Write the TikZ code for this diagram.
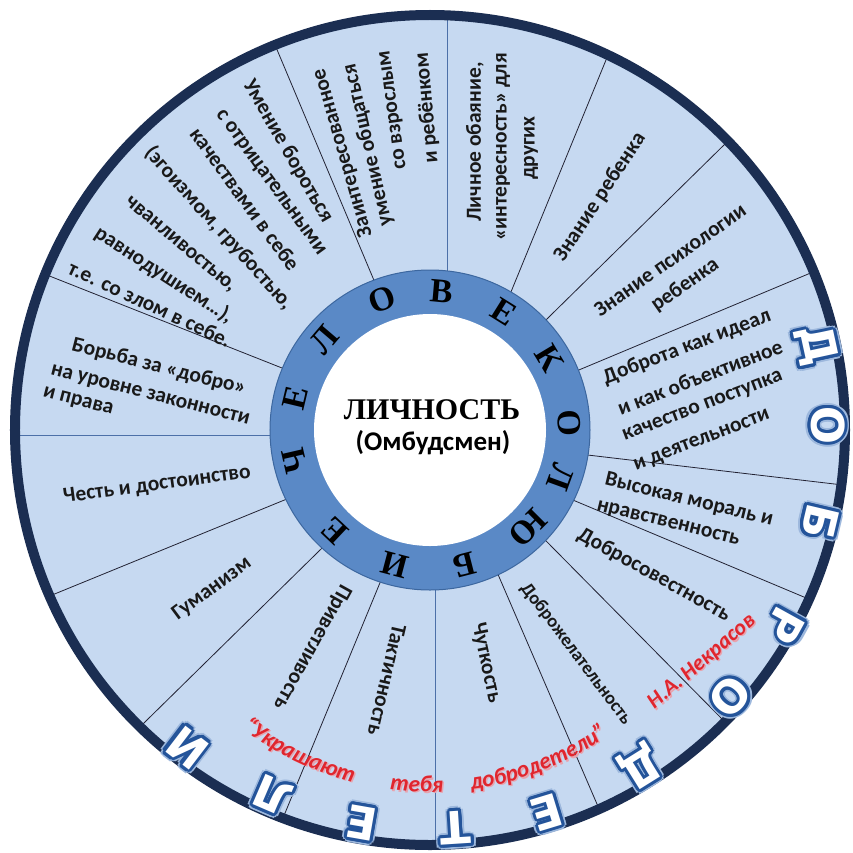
\documentclass[tikz,border=0pt]{standalone}
\usepackage{fontspec}
\setmainfont{Carlito}
\newfontfamily\secfont{Carlito}
\newfontfamily\redfont{Carlito}
\newfontfamily\ringfont{Liberation Serif}
\newfontfamily\letfont{DejaVu Sans}
\usetikzlibrary{decorations.text,calc}
\definecolor{secfill}{HTML}{C6D9F1}
\definecolor{navy}{HTML}{1B2E52}
\definecolor{ringblue}{HTML}{5A89C6}
\definecolor{ringedge}{HTML}{3C679F}
\definecolor{divline}{HTML}{222233}
\definecolor{divblue}{HTML}{4C70A8}
\definecolor{redtxt}{HTML}{E0262E}
\definecolor{redshadow}{HTML}{E8A3AE}
\definecolor{letblue}{HTML}{24549A}
\definecolor{letglow}{HTML}{9DB8DD}
\newcommand\redfmt{\redfont\bfseries\itshape\fontsize{23}{28}\selectfont\color{redtxt}}
\newcommand\redsfmt{\redfont\bfseries\itshape\fontsize{23}{28}\selectfont\color{redshadow}}
\newcommand\OutLetter[4]{%
  \foreach \t in {0,30,...,330}{\node[olet,text=letglow,rotate=#1-90] at ($(#1:#2)+(\t:4.8)$) {#3};}
  \foreach \t in {0,22.5,...,337.5}{\node[olet,text=letblue,rotate=#1-90] at ($(#1:#2)+(\t:3)$) {#3};}
  \node[olet,text=white,rotate=#1-90] (#4) at (#1:#2) {#3};}
\begin{document}
\begin{tikzpicture}[x=1pt,y=1pt,
  sec/.style={font=\secfont\bfseries\fontsize{21.5}{27}\selectfont, inner sep=0pt, text=black!90},
  secs/.style={font=\secfont\bfseries\fontsize{18.5}{23}\selectfont, inner sep=0pt, text=black!90},
  ringl/.style={font=\ringfont\bfseries\fontsize{34}{34}\selectfont, inner sep=0pt, text=black},
  olet/.style={font=\letfont\bfseries\fontsize{45}{45}\selectfont, inner sep=0pt, text height=0.72em, text depth=0pt},
  divd/.style={draw=divline, line width=0.8pt},
  divb/.style={draw=divblue, line width=1pt},
  redt/.style={font=\redfont\bfseries\itshape\fontsize{22}{26}\selectfont, text=redtxt, inner sep=0pt},
  redsh/.style={font=\redfont\bfseries\itshape\fontsize{22}{26}\selectfont, text=redshadow, inner sep=0pt}]
\useasboundingbox (-430,430) rectangle (423,-422);
\fill[white] (-430,430) rectangle (423,-422);
\fill[secfill] (0,0) circle (415);
% dividers
\begin{scope}
\clip (0,0) circle (415);
\coordinate (tvi) at (17,160);   \coordinate (tvo) at (17,418);
\coordinate (ci) at (83,143);    \coordinate (co) at (176,370);
\coordinate (di) at (121,115);   \coordinate (do) at (296,287);
\coordinate (ei) at (156,63);    \coordinate (eo) at (383,158);
\coordinate (fi) at (166,-26);   \coordinate (fo) at (413,-55);
\coordinate (gi) at (150,-73);   \coordinate (go) at (381,-170);
\coordinate (hi) at (126,-121);  \coordinate (ho) at (296,-293);
\coordinate (ii) at (73,-156);   \coordinate (io) at (170,-381);
\coordinate (bvi) at (5,-160);   \coordinate (bvo) at (5,-415);
\coordinate (ji) at (-53,-160);  \coordinate (jo) at (-147,-388);
\coordinate (ki) at (-113,-123); \coordinate (ko) at (-283,-290);
\coordinate (li) at (-148,-71);  \coordinate (lo) at (-373,-163);
\coordinate (mi) at (-160,-5);   \coordinate (mo) at (-415,-5);
\coordinate (bi) at (-148,62);   \coordinate (bo) at (-378,153);
\coordinate (ai) at (-57,152);   \coordinate (ao) at (-152,378);
\foreach \p in {c,d,e,f,g,h,i,j,k,l,b,a}{
  \draw[divd] ($(\p o)!1.15!(\p i)$) -- ($(\p i)!1.15!(\p o)$);}
\foreach \p in {tv,bv,m}{
  \draw[divb] ($(\p o)!1.15!(\p i)$) -- ($(\p i)!1.15!(\p o)$);}
\end{scope}
% ring
\filldraw[fill=ringblue, draw=ringedge, line width=1pt] (0,0) circle (160);
\fill[white] (0,0) circle (116);
\draw[navy, line width=10pt] (0,0) circle (415);
% ring letters
\foreach \a/\l [count=\i, evaluate=\a as \rr using \a-90] in
  {193/Ч,166.5/Е,139.5/Л,110/О,85/В,58/Е,31/К,3/О,-20/Л,-45/Ю,-75.6/Б,-104.8/И,-133.4/Е}
  {\node[ringl, rotate=\rr] (ring\i) at (\a:139) {\l};}
% centre
\node[font=\ringfont\bfseries\fontsize{30}{30}\selectfont, inner sep=0pt] (lich) at (2,20) {ЛИЧНОСТЬ};
\node[font=\secfont\bfseries\fontsize{27}{27}\selectfont, inner sep=0pt] (omb) at (3,-13) {(Омбудсмен)};
% sector texts
\node[sec, rotate=90] (s1a) at (45,288) {Личное обаяние,};
\node[sec, rotate=90] (s1b) at (73,283) {«интересность» для};
\node[sec, rotate=90] (s1c) at (101,282) {других};
\node[sec, rotate=56.5] (s2) at (170,233) {Знание ребенка};
\node[sec, rotate=35] (s3a) at (240,170) {Знание психологии};
\node[sec, rotate=35] (s3b) at (255,145) {ребенка};
\node[sec, rotate=20.9] (s4a) at (257,83) {Доброта как идеал};
\node[sec, rotate=20.9] (s4b) at (270,53) {и как объективное};
\node[sec, rotate=20.9] (s4c) at (273,23) {качество поступка};
\node[sec, rotate=20.9] (s4d) at (272,-11) {и деятельности};
\node[sec, rotate=-13.7] (s5a) at (259,-70) {Высокая мораль и};
\node[sec, rotate=-13.7] (s5b) at (238,-94) {нравственность};
\node[sec, rotate=-29] (s6) at (224,-145) {Добросовестность};
\node[secs, rotate=-53] (s7) at (146,-224) {Доброжелательность};
\node[sec, rotate=-78] (s8) at (56,-233) {Чуткость};
\node[sec, rotate=-103] (s9) at (-43,-250) {Тактичность};
\node[sec, rotate=-119] (s10) at (-118,-217) {Приветливость};
\node[sec, rotate=36.5] (s11) at (-218,-159) {Гуманизм};
\node[sec, rotate=7.6] (s12) at (-273,-55) {Честь и достоинство};
\node[sec, rotate=-14.4] (s13a) at (-271,63) {Борьба за «добро»};
\node[sec, rotate=-14.4] (s13b) at (-280,34) {на уровне законности};
\node[sec, rotate=-14.4] (s13c) at (-352,28) {и права};
\node[sec, rotate=-60] (s14a) at (-142,279) {Умение бороться};
\node[sec, rotate=-54] (s14b) at (-160,247) {с отрицательными};
\node[sec, rotate=-54] (s14c) at (-185,231) {качествами в себе};
\node[sec, rotate=-48] (s14d) at (-211,202) {(эгоизмом, грубостью,};
\node[sec, rotate=-40] (s14e) at (-250,185) {чванливостью,};
\node[sec, rotate=-33] (s14f) at (-266,155) {равнодушием…),};
\node[sec, rotate=-25] (s14g) at (-280,126) {т.е. со злом в себе.};
\node[sec, rotate=106] (s15a) at (-87,277) {Заинтересованное};
\node[sec, rotate=103] (s15b) at (-62,285) {умение общаться};
\node[sec, rotate=98] (s15c) at (-36,320) {со взрослым};
\node[sec, rotate=95] (s15d) at (-3,322) {и ребёнком};
% outer letters
\OutLetter{12.3}{386}{Д}{o1}
\OutLetter{0.7}{385}{О}{o2}
\OutLetter{-13.3}{388}{Б}{o3}
\OutLetter{-28.9}{393}{Р}{o4}
\OutLetter{-41.6}{389}{О}{o5}
\OutLetter{-58}{387}{Д}{o6}
\OutLetter{-73}{387}{Е}{o7}
\OutLetter{-86.3}{386}{Т}{o8}
\OutLetter{-99.9}{386}{Е}{o9}
\OutLetter{-113.3}{385}{Л}{o10}
\OutLetter{-127.4}{387}{И}{o11}
% red quotation (shadow, then text)
\begin{scope}[shift={(1.5,-1.5)}]
\path[decorate, decoration={text along path, text={|\redsfmt|“Украшают}, text align=center}]
  (0,-53) ++(-140:309) arc[start angle=-140, end angle=-92, radius=309];
\path[decorate, decoration={text along path, text={|\redsfmt|тебя}, text align=center}]
  (0,-53) ++(-110:309) arc[start angle=-110, end angle=-75, radius=309];
\path[decorate, decoration={text along path, text={|\redsfmt|добродетели”}, text align=center}]
  (0,-53) ++(-96:309) arc[start angle=-96, end angle=-41, radius=309];
\node[redsh, rotate=40.6] (neksh) at (272,-232) {Н.А. Некрасов};
\end{scope}
\path[decorate, decoration={text along path, text={|\redfmt|“Украшают}, text align=center}]
  (0,-53) ++(-140:309) arc[start angle=-140, end angle=-92, radius=309];
\path[decorate, decoration={text along path, text={|\redfmt|тебя}, text align=center}]
  (0,-53) ++(-110:309) arc[start angle=-110, end angle=-75, radius=309];
\path[decorate, decoration={text along path, text={|\redfmt|добродетели”}, text align=center}]
  (0,-53) ++(-96:309) arc[start angle=-96, end angle=-41, radius=309];
\node[redt, rotate=40.6] (nek) at (272,-232) {Н.А. Некрасов};
\end{tikzpicture}
\end{document}
